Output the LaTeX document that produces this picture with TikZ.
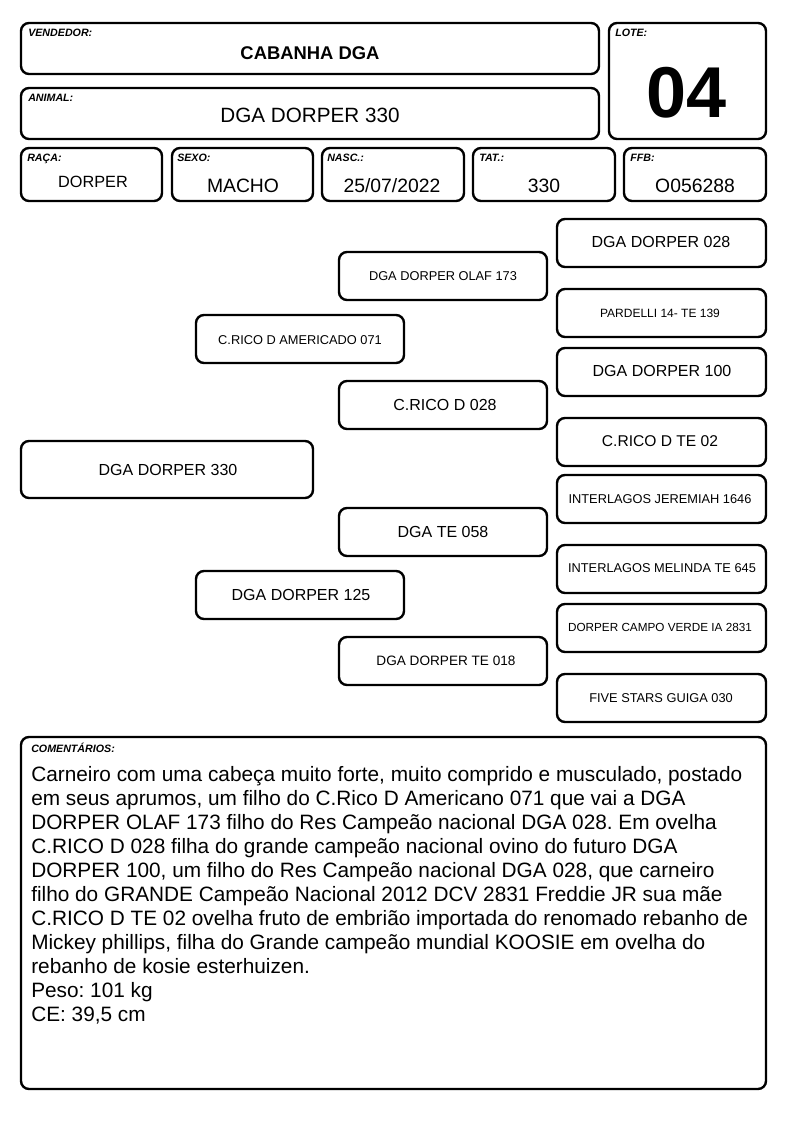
\documentclass[tikz,border=0pt]{standalone}
\usepackage{fontspec}
\setmainfont{Liberation Sans}
\frenchspacing
\begin{document}
\begin{tikzpicture}[x=0.75pt,y=-0.75pt,
    box/.style={line width=1.8pt,rounded corners=6pt},
    tag/.style={anchor=north west,inner sep=0pt,font=\fontsize{8}{9}\selectfont\bfseries\itshape},
    big/.style={font=\fontsize{15.5}{16}\selectfont},
    mid/.style={font=\fontsize{12}{13}\selectfont},
    sml/.style={font=\fontsize{9.6}{11}\selectfont}]

    \fill[white] (0,0) rectangle (794,1123);
    \useasboundingbox (0,0) rectangle (794,1123);

    % header
    \draw[box] (21,23) rectangle (599,74);
    \draw[box] (21,88) rectangle (599,139);
    \draw[box] (609,23) rectangle (766,139);
    \node[tag] (tvend) at (28,29) {VENDEDOR:};
    \node[tag] (tanim) at (28,94) {ANIMAL:};
    \node[tag] (tlote) at (615,29) {LOTE:};
    \node[font=\fontsize{13.8}{15}\selectfont\bfseries] (vend) at (310,53) {CABANHA DGA};
    \node[big] (anim) at (310,115) {DGA DORPER 330};
    \node[font=\fontsize{54}{56}\selectfont\bfseries] (lote) at (687,93) {04};

    % dados
    \draw[box] (21,148) rectangle (162,201);
    \draw[box] (172,148) rectangle (313,201);
    \draw[box] (322,148) rectangle (464,201);
    \draw[box] (473,148) rectangle (615,201);
    \draw[box] (624,148) rectangle (766,201);
    \node[tag] (traca) at (27,154) {RAÇA:};
    \node[tag] (tsexo) at (177,154) {SEXO:};
    \node[tag] (tnasc) at (327,154) {NASC.:};
    \node[tag] (ttat) at (479,154) {TAT.:};
    \node[tag] (tffb) at (630,154) {FFB:};
    \node[font=\fontsize{12.2}{13}\selectfont] (raca) at (93,182) {DORPER};
    \node[font=\fontsize{14.5}{15}\selectfont] (sexo) at (243,186) {MACHO};
    \node[font=\fontsize{14.5}{15}\selectfont] (nasc) at (392,186) {25/07/2022};
    \node[font=\fontsize{14.5}{15}\selectfont] (tat) at (544,186) {330};
    \node[font=\fontsize{14.5}{15}\selectfont] (ffb) at (695,186) {O056288};

    % genealogia
    \draw[box] (21,441) rectangle (313,498);
    \node[mid] (animal) at (168,470) {DGA DORPER 330};

    \draw[box] (196,315) rectangle (404,363);
    \node[sml] (pai) at (300,340) {C.RICO D AMERICADO 071};
    \draw[box] (196,571) rectangle (404,619);
    \node[mid] (mae) at (301,595) {DGA DORPER 125};

    \draw[box] (339,252) rectangle (547,300);
    \node[sml] (avopp) at (443,276) {DGA DORPER OLAF 173};
    \draw[box] (339,381) rectangle (547,429);
    \node[mid] (avopm) at (445,405) {C.RICO D 028};
    \draw[box] (339,508) rectangle (547,556);
    \node[mid] (avomp) at (443,532) {DGA TE 058};
    \draw[box] (339,637) rectangle (547,685);
    \node[font=\fontsize{10.2}{11}\selectfont] (avomm) at (446,661) {DGA DORPER TE 018};

    \draw[box] (557,219) rectangle (766,267);
    \node[mid] (bis1) at (661,242) {DGA DORPER 028};
    \draw[box] (557,289) rectangle (766,337);
    \node[font=\fontsize{9}{10}\selectfont] (bis2) at (660,313) {PARDELLI 14- TE 139};
    \draw[box] (557,348) rectangle (766,396);
    \node[mid] (bis3) at (662,371) {DGA DORPER 100};
    \draw[box] (557,418) rectangle (766,466);
    \node[font=\fontsize{11.7}{13}\selectfont] (bis4) at (660,441) {C.RICO D TE 02};
    \draw[box] (557,475) rectangle (766,523);
    \node[sml] (bis5) at (660,499) {INTERLAGOS JEREMIAH 1646};
    \draw[box] (557,545) rectangle (766,593);
    \node[sml] (bis6) at (662,568) {INTERLAGOS MELINDA TE 645};
    \draw[box] (557,604) rectangle (766,652);
    \node[font=\fontsize{8.8}{10}\selectfont] (bis7) at (660,627) {DORPER CAMPO VERDE IA 2831};
    \draw[box] (557,674) rectangle (766,722);
    \node[sml] (bis8) at (661,698) {FIVE STARS GUIGA 030};

    % comentarios
    \draw[box] (21,737) rectangle (766,1089);
    \node[tag] (tcom) at (31,743) {COMENTÁRIOS:};
    \node[anchor=north west,inner sep=0pt,align=left,font=\fontsize{15.6}{18}\selectfont] (coment) at (31,766)
    {Carneiro com uma cabeça muito forte, muito comprido e musculado, postado\\
     em seus aprumos, um filho do C.Rico D Americano 071 que vai a DGA\\
     DORPER OLAF 173 filho do Res Campeão nacional DGA 028. Em ovelha\\
     C.RICO D 028 filha do grande campeão nacional ovino do futuro DGA\\
     DORPER 100, um filho do Res Campeão nacional DGA 028, que carneiro\\
     filho do GRANDE Campeão Nacional 2012 DCV 2831 Freddie JR sua mãe\\
     C.RICO D TE 02 ovelha fruto de embrião importada do renomado rebanho de\\
     Mickey phillips, filha do Grande campeão mundial KOOSIE em ovelha do\\
     rebanho de kosie esterhuizen.\\
     Peso: 101 kg\\
     CE: 39,5 cm};

\end{tikzpicture}
\end{document}
